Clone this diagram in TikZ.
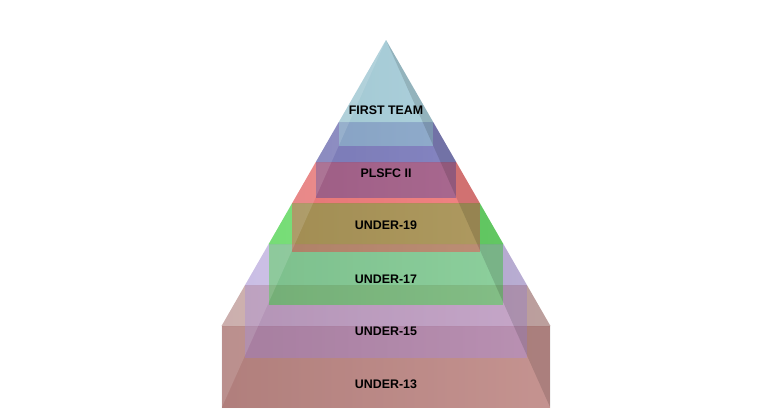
\documentclass[tikz,border=0pt]{standalone}
\usepackage{fontspec}
\setmainfont{Liberation Sans}
\usepackage{tikz}
\usetikzlibrary{positioning}
\definecolor{teamblue}{RGB}{150,200,215}
\definecolor{plsfcblue}{RGB}{60,60,160}
\definecolor{ninered}{RGB}{240,70,70}
\definecolor{sevengreen}{RGB}{40,220,40}
\definecolor{fivelilac}{RGB}{165,135,230}
\definecolor{threebrown}{RGB}{150,60,55}
% one step: top face (slanted) and front face (straight)
\newcommand{\pyrtier}[6]{%
  \fill[#1, fill opacity=#2] ({386-0.575*(#4-40)},#4) -- ({386+0.575*(#4-40)},#4) -- ({386+0.575*(#5-40)},#5) -- ({386-0.575*(#5-40)},#5) -- cycle;
  \fill[#1, fill opacity=#3] ({386-0.575*(#5-40)},#5) rectangle ({386+0.575*(#5-40)},#6);
}
\tikzstyle{tierlabel} = [font=\bfseries\fontsize{12.4}{14}\selectfont, text=black, inner sep=0pt]
\tikzstyle{litface} = [fill=white, fill opacity=0.13]
\tikzstyle{darkface} = [fill=black, fill opacity=0.13]

\begin{document}
\begin{tikzpicture}[x=1pt,y=-1pt]
	\useasboundingbox (0,0) rectangle (773,408);
	\coordinate (apex) at (386,40);
	\coordinate (lshoulder) at (221.55,326);
	\coordinate (rshoulder) at (550.45,326);
	\coordinate (lfoot) at (221.55,408);
	\coordinate (rfoot) at (550.45,408);

	\pyrtier{threebrown}{0.4}{0.6}{285}{326}{408}
	\pyrtier{fivelilac}{0.5}{0.4}{244}{285}{358}
	\pyrtier{sevengreen}{0.7}{0.45}{203}{244}{305}
	\pyrtier{ninered}{0.7}{0.5}{162}{203}{252}
	\pyrtier{plsfcblue}{0.65}{0.42}{122}{162}{198}
	\pyrtier{teamblue}{0.8}{0.6}{40}{122}{146}

	\shade[left color=black, right color=white, fill opacity=0.08] (apex) -- (lshoulder) -- (lfoot) -- (rfoot) -- (rshoulder) -- cycle;
	\fill[litface] (apex) -- (lshoulder) -- (lfoot) -- cycle;
	\fill[darkface] (apex) -- (rshoulder) -- (rfoot) -- cycle;

	\node[tierlabel] (first) at (386,110) {FIRST TEAM};
	\node[tierlabel] (plsfc) at (386,173) {PLSFC II};
	\node[tierlabel] (u19) at (386,225) {UNDER-19};
	\node[tierlabel] (u17) at (386,279) {UNDER-17};
	\node[tierlabel] (u15) at (386,331) {UNDER-15};
	\node[tierlabel] (u13) at (386,384) {UNDER-13};
\end{tikzpicture}
\end{document}
